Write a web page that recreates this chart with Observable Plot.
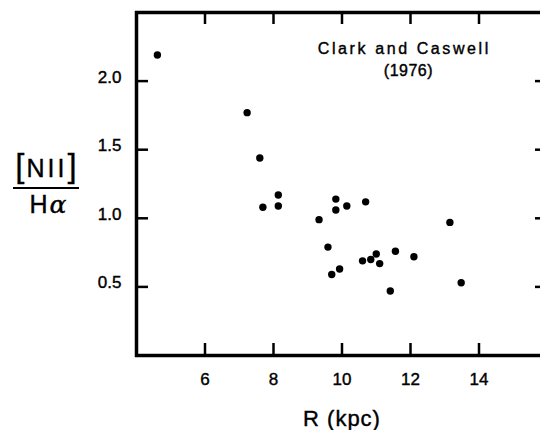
<!DOCTYPE html>
<html><head><meta charset="utf-8">
<script src="https://cdn.jsdelivr.net/npm/d3@7"></script>
<script src="https://cdn.jsdelivr.net/npm/@observablehq/plot@0.6"></script>
<style>body{margin:0;background:#fff;overflow:hidden} #chart svg{max-width:none} #chart svg text{stroke:black;stroke-width:0.4px}</style>
</head><body><div id="chart"></div>
<script>
// Data
const radius = [4.61,7.23,7.60,7.69,8.14,8.14,9.33,9.82,9.82,10.14,10.69,13.15,9.59,9.70,9.93,10.60,10.84,11.00,11.10,11.41,11.56,12.10,13.48];
const ratio  = [2.19,1.77,1.44,1.08,1.17,1.09,0.99,1.14,1.06,1.09,1.12,0.97,0.79,0.59,0.63,0.69,0.70,0.74,0.67,0.47,0.76,0.72,0.53];
const xTicks = [6, 8, 10, 12, 14];
const yTicks = [0.5, 1.0, 1.5, 2.0];
const noteLines = ["Clark and Caswell", "(1976)"];
const noteX = [11.82, 11.94];
const noteY = [2.236, 2.073];
const xLabel = "R (kpc)";

const points = radius.map((r, i) => ({r, v: ratio[i]}));
const notes = noteLines.map((t, i) => ({t, x: noteX[i], y: noteY[i]}));

const W = 540, H = 430, mL = 136, mR = -7, mT = 12, mB = 75;
const plotH = H - mT - mB, plotW = W - mL - mR, tick = 12;
const font = "'Liberation Sans', Arial, Helvetica, sans-serif";

const chartSvg = Plot.plot({
  width: W, height: H,
  marginLeft: mL, marginRight: mR, marginTop: mT, marginBottom: mB,
  style: {fontFamily: font, fontSize: "16px", color: "black", background: "white"},
  x: {domain: [4, 16]},
  y: {domain: [0, 2.5]},
  marks: [
    Plot.axisX({ticks: xTicks, tickSize: 0, tickPadding: 17, fontSize: 17, label: null, tickFormat: d => String(d)}),
    Plot.axisY({ticks: yTicks, tickSize: 0, tickPadding: 15, fontSize: 17, label: null, dy: -4, tickFormat: d3.format(".1f")}),
    Plot.frame({stroke: "black", strokeWidth: 3.5}),
    Plot.ruleX(xTicks, {insetTop: plotH - tick, strokeWidth: 2.5}),
    Plot.ruleX(xTicks, {insetBottom: plotH - tick, strokeWidth: 2.5}),
    Plot.ruleY(yTicks, {insetRight: plotW - tick, strokeWidth: 2.5}),
    Plot.ruleY(yTicks, {insetLeft: plotW - tick, strokeWidth: 2.5}),
    Plot.dot(points, {x: "r", y: "v", r: 3.7, fill: "black", stroke: "none"}),
    Plot.text(notes, {x: "x", y: "y", text: "t", fontSize: 16}),
    Plot.text([xLabel], {frameAnchor: "bottom", lineAnchor: "middle", dy: 63, fontSize: 22})
  ]
});
document.getElementById("chart").appendChild(chartSvg);

const s = d3.select(chartSvg);
s.selectAll("text").filter(function(){ return this.textContent === noteLines[0]; }).attr("letter-spacing", 2.6);
s.selectAll("text").filter(function(){ return this.textContent === noteLines[1]; }).attr("letter-spacing", 0.5);
s.selectAll("text").filter(function(){ return this.textContent === xLabel; }).attr("letter-spacing", 1);

// y-axis label: [N II] over H alpha
const g = s.append("g").attr("font-family", font).attr("fill", "black");
const numer = g.append("text").attr("x", 46).attr("y", 177).attr("text-anchor", "middle");
numer.append("tspan").attr("font-size", 33).style("stroke-width", "0.3px").text("[");
numer.append("tspan").attr("font-size", 25).attr("letter-spacing", 3).attr("dx", 2).text("NII");
numer.append("tspan").attr("font-size", 33).style("stroke-width", "0.3px").text("]");
g.append("line").attr("x1", 13).attr("x2", 79).attr("y1", 188).attr("y2", 188).attr("stroke", "black").attr("stroke-width", 2);
const denom = g.append("text").attr("x", 48).attr("y", 213).attr("text-anchor", "middle").attr("font-size", 25);
denom.append("tspan").text("H");
denom.append("tspan").attr("font-style", "italic").attr("font-family", "'DejaVu Serif', serif").attr("dx", 2).text("α");
</script></body></html>
